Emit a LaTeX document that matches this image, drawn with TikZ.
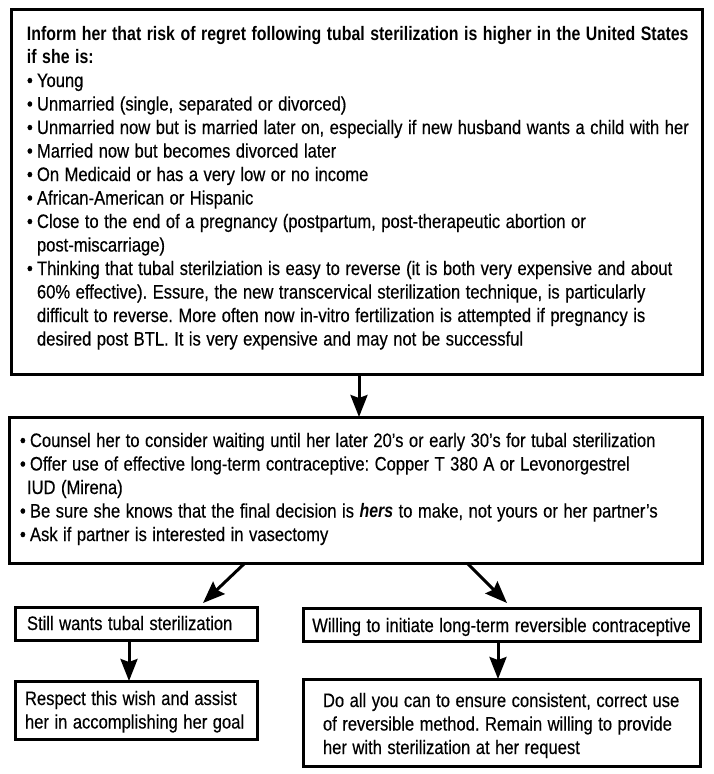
\documentclass[tikz,border=0pt]{standalone}
\usepackage{fontspec}
\setmainfont{Liberation Sans}[FakeStretch=0.85, UprightFeatures={FakeBold=0.4}, BoldFeatures={FakeStretch=0.815}, BoldItalicFeatures={FakeStretch=0.815}]
\usetikzlibrary{arrows.meta}
\newcommand{\bul}{\makebox[10pt][l]{•}}
\newcommand{\narrowspace}{\spaceskip=5.5pt\relax\xspaceskip=5.5pt\relax}
\frenchspacing
\begin{document}
\begin{tikzpicture}[x=1pt,y=-1pt,
  every node/.style={font=\fontsize{19.5}{23.5}\selectfont, execute at begin node=\narrowspace},
  box/.style={draw, line width=3pt, anchor=north west, outer sep=0pt, inner ysep=0pt, align=left},
  arr/.style={line width=3pt, -{Stealth[length=22pt,width=17pt,inset=3pt]}}]
\useasboundingbox (0,0) rectangle (713,774);

\node[box, inner xsep=16pt, text width=659pt, text height=31pt, text depth=334pt] (b1) at (11,9) {%
\mbox{\textbf{Inform her that risk of regret following tubal sterilization is higher in the United States}}\\
\textbf{if she is:}\\
\bul Young\\
\bul Unmarried (single, separated or divorced)\\
\mbox{\bul Unmarried now but is married later on, especially if new husband wants a child with her}\\
\bul Married now but becomes divorced later\\
\bul On Medicaid or has a very low or no income\\
\bul African-American or Hispanic\\
\mbox{\bul Close to the end of a pregnancy (postpartum, post-therapeutic abortion or}\\
\hspace*{10pt}post-miscarriage)\\
\mbox{\bul Thinking that tubal sterilziation is easy to reverse (it is both very expensive and about}\\
\hspace*{10pt}\mbox{60\% effective). Essure, the new transcervical sterilization technique, is particularly}\\
\hspace*{10pt}\mbox{difficult to reverse. More often now in-vitro fertilization is attempted if pregnancy is}\\
\hspace*{10pt}\mbox{desired post BTL. It is very expensive and may not be successful}};

\node[box, inner xsep=11pt, text width=671pt, text height=30pt, text depth=116pt] (b2) at (9,417) {%
\mbox{\bul Counsel her to consider waiting until her later 20’s or early 30’s for tubal sterilization}\\
\mbox{\bul Offer use of effective long-term contraceptive: Copper T 380 A or Levonorgestrel}\\
\hspace*{7pt}IUD (Mirena)\\
\mbox{\bul Be sure she knows that the final decision is \textbf{\textit{hers}} to make, not yours or her partner’s}\\
\mbox{\bul Ask if partner is interested in vasectomy}};

\node[box, inner xsep=12pt, text width=218pt, text height=23pt, text depth=10pt] (b3) at (15,607) {\mbox{Still wants tubal sterilization}};

\node[box, inner xsep=0pt, text width=397pt, align=center, text height=24pt, text depth=9pt] (b4) at (303,608) {\mbox{Willing to initiate long-term reversible contraceptive}};

\node[box, inner xsep=10pt, text width=222pt, text height=24pt, text depth=34pt] (b5) at (15,681) {\mbox{Respect this wish and assist}\\\mbox{her in accomplishing her goal}};

\node[box, inner xsep=20pt, text width=357pt, text height=28pt, text depth=59pt] (b6) at (303,679) {\mbox{Do all you can to ensure consistent, correct use}\\\mbox{of reversible method. Remain willing to provide}\\\mbox{her with sterilization at her request}};

\coordinate (a1) at (359,0);
\coordinate (d1s) at (245,0);
\coordinate (d1e) at (203,603);
\coordinate (d2s) at (467,0);
\coordinate (d2e) at (507,603);
\coordinate (a3) at (129,0);
\coordinate (a4) at (498,0);

\draw[arr] (b1.south -| a1) -- (b2.north -| a1);
\draw[arr] (b2.south -| d1s) -- (d1e);
\draw[arr] (b2.south -| d2s) -- (d2e);
\draw[arr] (b3.south -| a3) -- (b5.north -| a3);
\draw[arr] (b4.south -| a4) -- (b6.north -| a4);
\end{tikzpicture}
\end{document}
